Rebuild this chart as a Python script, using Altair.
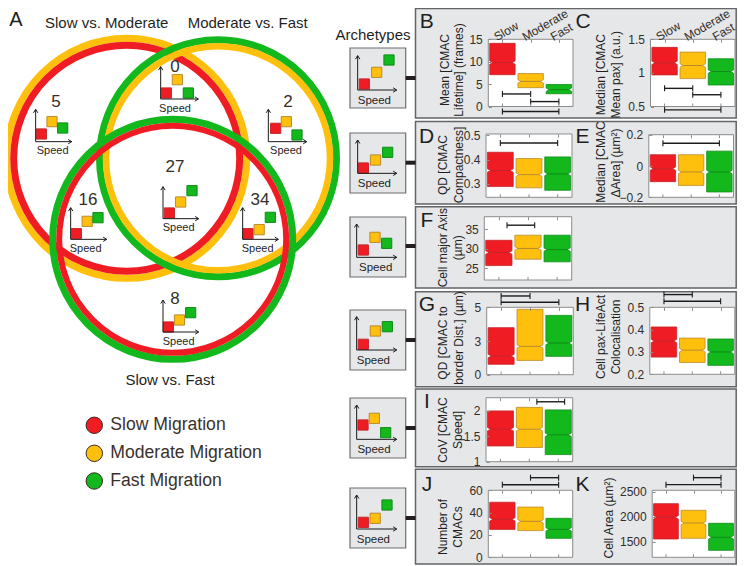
import altair as alt
import pandas as pd

# ---------- chart values ----------
GROUPS = [1, 2, 3]
GROUP_NAMES = ["Slow", "Moderate", "Fast"]
FILL = ["#ef1c24", "#ffc00d", "#13b81d"]
EDGE = ["#c4262c", "#b98a2c", "#0e8c18"]

B_Q3 = [14.1, 7.35, 4.9];   B_MED = [9.8, 5.6, 3.75];   B_Q1 = [7.1, 4.2, 2.85]
C_Q3 = [1.38, 1.31, 1.21];  C_MED = [1.15, 1.11, 1.02]; C_Q1 = [0.97, 0.915, 0.82]
D_Q3 = [0.43, 0.404, 0.411]; D_MED = [0.355, 0.338, 0.341]; D_Q1 = [0.289, 0.284, 0.274]
E_Q3 = [0.072, 0.072, 0.095]; E_MED = [-0.017, -0.038, -0.038]; E_Q1 = [-0.10, -0.124, -0.166]
F_Q3 = [32.2, 33.5, 33.5];  F_MED = [29.06, 30.1, 29.8]; F_Q1 = [25.7, 27.35, 26.67]
G_Q3 = [3.49, 4.85, 4.4];   G_MED = [1.39, 2.1, 2.35];  G_Q1 = [0.77, 1.06, 1.36]
H_Q3 = [0.412, 0.362, 0.358]; H_MED = [0.349, 0.308, 0.30]; H_Q1 = [0.277, 0.253, 0.24]
I_Q3 = [2.0, 2.07, 2.02];   I_MED = [1.64, 1.64, 1.53]; I_Q1 = [1.31, 1.28, 1.14]
J_Q3 = [49.3, 45, 34.9];    J_MED = [34, 32.2, 25];     J_Q1 = [25, 23.9, 17]
K_Q3 = [2260, 2127, 1867];  K_MED = [1987, 1873, 1587]; K_Q1 = [1553, 1567, 1327]

B_BR = [(1, 2, 2.8), (2, 3, 1.1), (1, 3, -1.1)]
C_BR = [(1, 2, 0.77), (2, 3, 0.675), (1, 3, 0.45)]
D_BR = [(1, 3, 0.468)]
E_BR = [(1, 3, 0.145)]
F_BR = [(1.28, 2.23, 36.07)]
G_BR = [(1, 2, 5.84), (1, 3, 5.37)]
H_BR = [(1, 2, 0.557), (1, 3, 0.527)]
I_BR = [(2.26, 3.22, 2.18)]
J_BR = [(2, 3, 71.3), (1, 3, 65)]
K_BR = [(2, 3, 2780), (1, 3, 2640)]

VENN_COUNTS = ["5", "0", "2", "27", "16", "34", "8"]
# heights of the three squares above each icon's axis
LEVELS_VENN = [(23, 60, 41), (18, 58, 18), (40, 60, 20), (17, 50, 84),
               (17, 54, 65), (17, 29, 66), (15, 36, 58)]
LEVELS_ARCH = [(18, 53, 90), (16, 40, 63), (22, 60, 42),
               (17, 57, 70), (43, 63, 20), (20, 32, 72)]

LEGEND_NAMES = ["Slow Migration", "Moderate Migration", "Fast Migration"]

# ---------- layout (reference pixels) ----------
FONT = "Liberation Sans"
OX, OY = 8, 8
W, H = 729, 558
GRAY = "#e6e7e9"
FRAME = "#8c8c8c"
TXT = "#332e2a"
DARK = "#231f20"
C2 = 4.5  # the second plot column moves left to stay inside the page


def sx(v):
    return v - OX


def sy(v):
    return v - OY


def col(x):
    return x - C2 if x >= 585 else x


def rule_layer(rows):
    df = pd.DataFrame(rows, columns=["x", "y", "x2", "y2", "c", "w"])
    return alt.Chart(df).mark_rule().encode(
        x=alt.X("x:Q", scale=None, axis=None),
        y=alt.Y("y:Q", scale=None, axis=None),
        x2="x2:Q",
        y2="y2:Q",
        color=alt.Color("c:N", scale=None, legend=None),
        strokeWidth=alt.StrokeWidth("w:Q", scale=None, legend=None),
    )


def rect_layer(rows, stroke, sw, fill):
    df = pd.DataFrame(rows, columns=["x", "y", "x2", "y2"])
    return alt.Chart(df).mark_rect(fill=fill, stroke=stroke, strokeWidth=sw).encode(
        x=alt.X("x:Q", scale=None, axis=None),
        y=alt.Y("y:Q", scale=None, axis=None),
        x2="x2:Q",
        y2="y2:Q",
    )


def text_layer(rows, align="center"):
    df = pd.DataFrame(rows, columns=["x", "y", "t", "s", "a", "c"])
    return alt.Chart(df).mark_text(font=FONT, baseline="middle", align=align).encode(
        x=alt.X("x:Q", scale=None, axis=None),
        y=alt.Y("y:Q", scale=None, axis=None),
        text="t:N",
        size=alt.Size("s:Q", scale=None, legend=None),
        angle=alt.Angle("a:Q", scale=None, legend=None),
        color=alt.Color("c:N", scale=None, legend=None),
    )


def rings(rows):
    df = pd.DataFrame(rows, columns=["x", "y", "r", "c", "w"])
    df["size"] = (2 * df["r"]) ** 2
    out = []
    for _, row in df.iterrows():
        out.append(
            alt.Chart(pd.DataFrame([row])).mark_point(
                shape="circle", filled=False, opacity=1,
                stroke=row["c"], strokeWidth=row["w"], size=row["size"]
            ).encode(
                x=alt.X("x:Q", scale=None, axis=None),
                y=alt.Y("y:Q", scale=None, axis=None),
            )
        )
    return out


def icon(segs, texts, ax, top, base, right, xr, xg, levels, sp, font=11):
    """squares of one archetype; axes and label collected into tables"""
    segs.append((sx(ax), sy(top), sx(ax), sy(base), "#1a1a1a", 1))
    segs.append((sx(ax), sy(base), sx(right), sy(base), "#1a1a1a", 1))
    segs.append((sx(ax), sy(top), sx(ax - 2.2), sy(top + 3.5), "#1a1a1a", 1))
    segs.append((sx(ax), sy(top), sx(ax + 2.2), sy(top + 3.5), "#1a1a1a", 1))
    segs.append((sx(right), sy(base), sx(right - 3.5), sy(base - 2.2), "#1a1a1a", 1))
    segs.append((sx(right), sy(base), sx(right - 3.5), sy(base + 2.2), "#1a1a1a", 1))
    texts.append((sx(sp[0]), sy(sp[1]), "Speed", font, 0, "#1f1f1f"))
    df = pd.DataFrame({"g": GROUPS, "lv": levels, "f": FILL, "e": EDGE})
    return alt.Chart(df).mark_square(size=104, opacity=1, strokeWidth=1).encode(
        x=alt.X("g:Q", axis=None, scale=alt.Scale(domain=[1, 3], range=[sx(xr), sx(xg)], nice=False, zero=False)),
        y=alt.Y("lv:Q", axis=None, scale=alt.Scale(domain=[0, 99], range=[sy(base), sy(base - 33)], nice=False, zero=False)),
        fill=alt.Fill("f:N", scale=None, legend=None),
        stroke=alt.Stroke("e:N", scale=None, legend=None),
    )


def panel(frame, domain, ticks, q3, med, q1, brackets, labelled=False):
    xl, xr, yt, yb = frame
    xs = alt.Scale(domain=[0.5, 3.5], range=[sx(xl), sx(xr)], nice=False, zero=False)
    ys = alt.Scale(domain=domain, range=[sy(yb), sy(yt)], nice=False, zero=False)
    notch = 1.7 * (domain[1] - domain[0]) / (yb - yt)

    y_axis = alt.Axis(
        orient="left", values=ticks, offset=-(sx(xl) + 3), tickSize=3, tickColor=FRAME,
        domain=False, grid=False, title=None, format="~r", labelFont=FONT, labelFontSize=12,
        labelColor=TXT, labelPadding=6, labelOverlap=False, labelFlush=False, zindex=1,
    )
    xopts = dict(
        orient="top", values=GROUPS, offset=-(sy(yt) + 3), tickSize=3, tickColor=FRAME,
        domain=False, grid=False, title=None, zindex=1, labelOverlap=False, labelFlush=False,
        labelBound=False,
    )
    if labelled:
        x_axis = alt.Axis(
            labelExpr="['','Slow','Moderate','Fast'][datum.value]", labelFont=FONT, labelFontSize=12,
            labelAngle=330, labelAlign="left", labelBaseline="middle", labelColor=TXT,
            labelOffset=-8, labelPadding=2, **xopts)
    else:
        x_axis = alt.Axis(labels=False, **xopts)

    layers = []
    for i, g in enumerate(GROUPS):
        rows = []
        hw, nw = 0.45, 0.34
        for v, w in [(q1[i], hw), (med[i] - notch, hw), (med[i], nw), (med[i] + notch, hw), (q3[i], hw)]:
            rows.append({"v": v, "l": g - w, "r": g + w})
        df = pd.DataFrame(rows)
        layers.append(
            alt.Chart(df).mark_area(orient="horizontal", fill=FILL[i], stroke=EDGE[i], strokeWidth=0.8, opacity=1).encode(
                x=alt.X("l:Q", scale=xs, axis=None, title=None),
                x2="r:Q",
                y=alt.Y("v:Q", scale=ys, axis=None, title=None),
            )
        )
    med_df = pd.DataFrame({"l": [g - 0.34 for g in GROUPS], "r": [g + 0.34 for g in GROUPS], "v": med, "e": EDGE})
    layers.append(
        alt.Chart(med_df).mark_rule(strokeWidth=1).encode(
            x=alt.X("l:Q", scale=xs, axis=None, title=None), x2="r:Q",
            y=alt.Y("v:Q", scale=ys, axis=None, title=None),
            color=alt.Color("e:N", scale=None, legend=None),
        )
    )
    br = pd.DataFrame(brackets, columns=["a", "b", "v"])
    layers.append(
        alt.Chart(br).mark_rule(color="#1c1c1c", strokeWidth=1.4).encode(
            x=alt.X("a:Q", scale=xs, axis=None, title=None), x2="b:Q",
            y=alt.Y("v:Q", scale=ys, axis=None, title=None),
        )
    )
    caps = pd.DataFrame([(p, v) for a, b, v in brackets for p in (a, b)], columns=["p", "v"])
    layers.append(
        alt.Chart(caps).mark_tick(orient="vertical", size=6, thickness=1.1, color="#1c1c1c", opacity=1).encode(
            x=alt.X("p:Q", scale=xs, axis=None, title=None),
            y=alt.Y("v:Q", scale=ys, axis=None, title=None),
        )
    )
    bt = pd.DataFrame({"g": GROUPS})
    layers.append(
        alt.Chart(bt).mark_rule(color=FRAME, strokeWidth=1).encode(
            x=alt.X("g:Q", scale=xs, axis=None, title=None),
            y=alt.value(sy(yb)), y2=alt.value(sy(yb - 3)),
        )
    )
    # axes carried by an invisible layer of their own
    ax_df = pd.DataFrame({"g": GROUPS, "v": ticks[:1] * 3})
    layers.append(
        alt.Chart(ax_df).mark_point(opacity=0, size=1).encode(
            x=alt.X("g:Q", scale=xs, axis=x_axis),
            y=alt.Y("v:Q", scale=ys, axis=y_axis),
        )
    )
    return layers


# ---------- Venn ----------
layers = []
layers += rings([
    (sx(126.7), sy(158.3), 120, FILL[1], 7),
    (sx(126.7), sy(158.3), 113, FILL[0], 7),
    (sx(218), sy(158.3), 118.5, FILL[2], 7),
    (sx(218), sy(158.3), 112, FILL[1], 6.5),
    (sx(172.7), sy(239.3), 120, FILL[2], 7),
    (sx(172.7), sy(239.3), 113.5, FILL[0], 6),
])

segs, texts, squares = [], [], []

VENN_POS = [(107, 328, 425, 215, 124, 188, (158, 453)),
            (482, 200, 297, 595, 499, 565, (525, 326)),
            (805, 328, 425, 920, 827, 891, (858, 453)),
            (489, 560, 656, 596, 508, 576, (536, 685)),
            (212, 623, 718, 320, 229, 294, (257, 748)),
            (728, 623, 718, 835, 744, 811, (773, 748)),
            (489, 900, 996, 596, 505, 572, (536, 1027))]
for (ax, top, base, right, xr, xg, sp), lv in zip(VENN_POS, LEVELS_VENN):
    squares.append(icon(segs, texts, ax / 3, top / 3, base / 3, right / 3, xr / 3, xg / 3,
                        lv, (sp[0] / 3, sp[1] / 3)))

COUNT_POS = [(56, 102), (175, 67), (288, 102), (175, 167), (88, 200), (260, 200), (175, 299)]
for (x, y), t in zip(COUNT_POS, VENN_COUNTS):
    texts.append((sx(x), sy(y), t, 17, 0, TXT))

for x, y, t in [(106.7, 22.7, "Slow vs. Moderate"), (247.7, 22.7, "Moderate vs. Fast"), (170, 380, "Slow vs. Fast")]:
    texts.append((sx(x), sy(y), t, 15, 0, "#1f1f1f"))
texts.append((sx(16), sy(20), "A", 20, 0, "#1f1f1f"))

# legend
LEG_Y = [425.3, 453.3, 481]
leg = pd.DataFrame({"x": [sx(94.3)] * 3, "y": [sy(v) for v in LEG_Y], "f": FILL})
legend_pts = alt.Chart(leg).mark_point(shape="circle", filled=True, size=270, opacity=1, stroke="#3a2a20", strokeWidth=1).encode(
    x=alt.X("x:Q", scale=None, axis=None),
    y=alt.Y("y:Q", scale=None, axis=None),
    fill=alt.Fill("f:N", scale=None, legend=None),
)
legend_txt = text_layer([(sx(110.3), sy(y), t, 17.6, 0, "#3a322c") for y, t in zip(LEG_Y, LEGEND_NAMES)], align="left")

# ---------- right hand side ----------
RIGHT = 736.2
PANELS = [(415.5, 8.5, RIGHT, 118), (415.5, 121.5, RIGHT, 204), (415.5, 206.7, RIGHT, 288),
          (415.5, 291.7, RIGHT, 386.7), (415.5, 389, RIGHT, 466.7), (415.5, 469.3, RIGHT, 564)]
gray_panels = rect_layer([(sx(a), sy(b), sx(c), sy(d)) for a, b, c, d in PANELS], "#636466", 1.5, GRAY)

ARCH_BOX = [(48, 108, 78), (133, 193, 162.7), (217, 277, 246), (310, 370, 340), (398, 458, 428), (488, 548, 518)]
arch_boxes = rect_layer([(sx(350), sy(a), sx(405.7), sy(b)) for a, b, _ in ARCH_BOX], "#6d6e71", 1.2, GRAY)
for _, _, c in ARCH_BOX:
    segs.append((sx(405.7), sy(c), sx(415.5), sy(c), DARK, 4))

ARCH_POS = [(0, 53, 167, 270, 170, 73, 147, (103, 302)),
            (0, 53, 420, 520, 170, 70, 143, (103, 553)),
            (200, 50, 72, 172, 170, 70, 140, (107, 205)),
            (200, 50, 350, 450, 170, 70, 142, (100, 484)),
            (385, 50, 60, 163, 170, 69, 137, (102, 195)),
            (385, 50, 330, 432, 170, 70, 141, (100, 464))]
for (o, ax, top, base, right, xr, xg, sp), lv in zip(ARCH_POS, LEVELS_ARCH):
    squares.append(icon(segs, texts, 340 + ax / 3, o + top / 3, o + base / 3, 340 + right / 3,
                        340 + xr / 3, 340 + xg / 3, lv,
                        (340 + sp[0] / 3, o + sp[1] / 3), font=11.5))
texts.append((sx(373), sy(35), "Archetypes", 15, 0, "#1f1f1f"))

FR = {
    "B": (488.3, 573, 39.3, 106.5), "C": (655 - C2, 739.5 - C2, 39.3, 106.5),
    "D": (486, 572, 134, 197.3), "E": (653.3 - C2, 738 - C2, 134.7, 197.3),
    "F": (484.3, 571.7, 216.7, 280), "G": (486.7, 573.3, 307.3, 374.7),
    "H": (654.3 - C2, 739.3 - C2, 307.3, 374.3), "I": (486, 572.7, 397.7, 461.7),
    "J": (488.3, 572.7, 490.3, 557.3), "K": (656.7 - C2, 739.3 - C2, 490.3, 557.3),
}
plot_bg = rect_layer([(sx(a), sy(c), sx(b), sy(d)) for a, b, c, d in FR.values()], FRAME, 1, "#ffffff")

charts = (
    panel(FR["B"], [0, 15], [0, 5, 10, 15], B_Q3, B_MED, B_Q1, B_BR, True) +
    panel(FR["C"], [0.5, 1.5], [0.5, 1, 1.5], C_Q3, C_MED, C_Q1, C_BR, True) +
    panel(FR["D"], [0.245, 0.505], [0.3, 0.4, 0.5], D_Q3, D_MED, D_Q1, D_BR) +
    panel(FR["E"], [-0.2, 0.2], [-0.2, 0, 0.2], E_Q3, E_MED, E_Q1, E_BR) +
    panel(FR["F"], [22, 38.25], [25, 30, 35], F_Q3, F_MED, F_Q1, F_BR) +
    panel(FR["G"], [0, 5], [0, 2.5, 5], G_Q3, G_MED, G_Q1, G_BR) +
    panel(FR["H"], [0.2, 0.5], [0.2, 0.3, 0.4, 0.5], H_Q3, H_MED, H_Q1, H_BR) +
    panel(FR["I"], [1, 2.26], [1, 1.5, 2], I_Q3, I_MED, I_Q1, I_BR) +
    panel(FR["J"], [0, 60], [0, 20, 40, 60], J_Q3, J_MED, J_Q1, J_BR) +
    panel(FR["K"], [1187, 2527], [1500, 2000, 2500], K_Q3, K_MED, K_Q1, K_BR)
)

for x, y, t in [(426.7, 22, "B"), (587.7, 22, "C"), (426.7, 137, "D"), (587, 137, "E"), (427, 221, "F"),
                (427, 305, "G"), (587, 305, "H"), (427, 402, "I"), (427, 485, "J"), (587, 485, "K")]:
    texts.append((sx(col(x)), sy(y), t, 21, 0, "#1f1f1f"))

for x, y, t in [(445, 70, "Mean [CMAC"), (459, 70, "Lifetime] (frames)"),
                (605, 74.7, "Median [CMAC"), (620, 74.7, "Mean pax] (a.u.)"),
                (443, 165, "QD [CMAC"), (459, 165, "Compactness]"),
                (605, 162, "Median [CMAC"), (620, 163, "\u0394Area] (\u00b5m\u00b2)"),
                (443, 247.7, "Cell major Axis"), (458, 247.7, "(\u00b5m)"),
                (443, 343, "QD [CMAC to"), (459, 338, "border Dist.] (\u00b5m)"),
                (605.7, 337, "Cell pax-LifeAct"), (620.7, 337, "Colocalisation"),
                (443, 430, "CoV [CMAC"), (458, 430, "Speed]"),
                (443, 527, "Number of"), (458, 527, "CMACs"),
                (613, 518, "Cell Area (\u00b5m\u00b2)")]:
    texts.append((sx(col(x)), sy(y), t, 12, 270, "#1f1f1f"))

all_layers = (
    layers + [gray_panels, arch_boxes, plot_bg] + charts + squares +
    [rule_layer(segs), text_layer(texts), legend_pts, legend_txt]
)

chart = alt.layer(*all_layers).resolve_scale(x="independent", y="independent").properties(
    width=W, height=H, padding=0, autosize=alt.AutoSizeParams(type="none"), background="#ffffff"
).configure_view(stroke=None)

chart.save("out.html", embed_options={"renderer": "svg", "actions": False})
